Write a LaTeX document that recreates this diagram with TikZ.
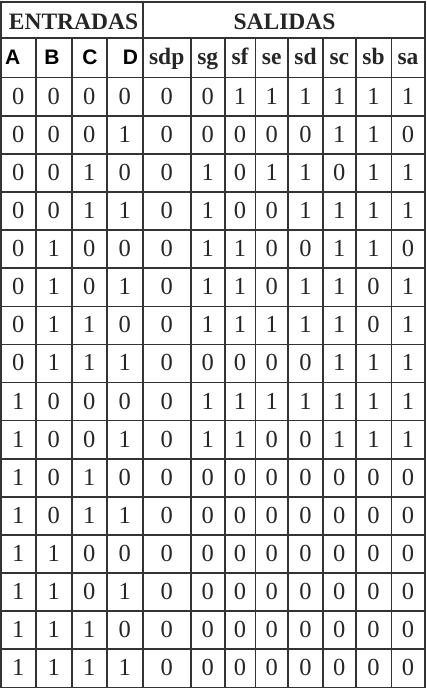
\documentclass[tikz,border=0pt]{standalone}
\usepackage{fontspec}
\setmainfont{Liberation Serif}
\newfontfamily\arialfont{Liberation Sans}
\begin{document}
\begin{tikzpicture}[x=1pt,y=-1pt] % segment decoder truth table
\tikzstyle{every node}+=[inner sep=0pt]
\tikzstyle{gridline}=[draw=black!80,line width=1.6pt]
\tikzstyle{bit}=[font=\fontsize{24.5}{26}\selectfont,text=black!85]
\tikzstyle{bighead}=[font=\bfseries\fontsize{23.5}{25}\selectfont,text=black!85]
\tikzstyle{inhead}=[font=\fontsize{21}{23}\selectfont\arialfont\bfseries,anchor=base]
\useasboundingbox (0,0) rectangle (426,690);
% column centres and row centres
\foreach \cx [count=\c] in {18.35,53.7,89.2,124.7,166.7,207.7,240,271.65,305.5,339.35,373.5,408}
  \coordinate (col\c) at (\cx,0);
\foreach \r in {0,...,15}
  \coordinate (row\r) at (0,96.2+38.1*\r);
% grid
\draw [gridline] (1,2) rectangle (424.7,687.3);
\foreach \k in {0,...,15}
  \draw [gridline] (1,77.7+38.1*\k) -- (424.7,77.7+38.1*\k);
\draw [gridline] (1,38.3) -- (424.7,38.3);
\draw [gridline] (142.7,2) -- (142.7,687.3);
\foreach \gx in {35.7,71.7,106.7,190.7,224.7,255.3,288,323,355.7,391.3}
  \draw [gridline] (\gx,38.3) -- (\gx,687.3);
% headers
\node [bighead] (entradas) at (73.5,21.5) {ENTRADAS};
\node [bighead] (salidas) at (284.5,21.5) {SALIDAS};
\node [inhead] (hA) at (12.8,65) {A};
\node [inhead] (hB) at (52,65) {B};
\node [inhead] (hC) at (90,65) {C};
\node [inhead] (hD) at (130.5,65) {D};
\foreach \name [count=\c from 5] in {sdp,sg,sf,se,sd,sc,sb,sa}
  \node [bighead,anchor=base] (h\name) at (col\c |- 0,65) {\name};
% data rows
\foreach \bits [count=\r from 0] in {
  {0,0,0,0,0,0,1,1,1,1,1,1},
  {0,0,0,1,0,0,0,0,0,1,1,0},
  {0,0,1,0,0,1,0,1,1,0,1,1},
  {0,0,1,1,0,1,0,0,1,1,1,1},
  {0,1,0,0,0,1,1,0,0,1,1,0},
  {0,1,0,1,0,1,1,0,1,1,0,1},
  {0,1,1,0,0,1,1,1,1,1,0,1},
  {0,1,1,1,0,0,0,0,0,1,1,1},
  {1,0,0,0,0,1,1,1,1,1,1,1},
  {1,0,0,1,0,1,1,0,0,1,1,1},
  {1,0,1,0,0,0,0,0,0,0,0,0},
  {1,0,1,1,0,0,0,0,0,0,0,0},
  {1,1,0,0,0,0,0,0,0,0,0,0},
  {1,1,0,1,0,0,0,0,0,0,0,0},
  {1,1,1,0,0,0,0,0,0,0,0,0},
  {1,1,1,1,0,0,0,0,0,0,0,0}}
  \foreach \v [count=\c] in \bits
    \node [bit] (b\r-\c) at (col\c |- row\r) {\v};
\end{tikzpicture}
\end{document}
